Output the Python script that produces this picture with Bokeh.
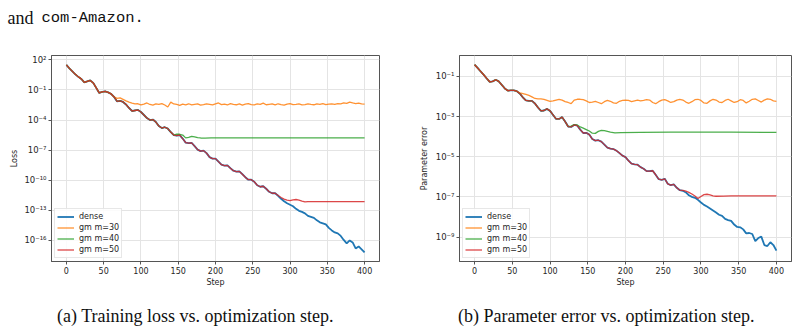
from bokeh.plotting import figure
from bokeh.models import (Range1d, FixedTicker, CustomJSTickFormatter, Legend,
                          LegendItem, Div)
from bokeh.core.properties import value
from bokeh.layouts import column, row
from bokeh.embed import file_html
from bokeh.resources import INLINE

# ---------------------------------------------------------------- data
# Optimization steps at which the dense runs are sampled.
steps = list(range(0, 401, 4))

# Values are stored as log10 of the quantity.
loss_dense = [1.50, 1.15, 0.85, 0.55, 0.30, 0.10, -0.25, -0.15, -0.05, -0.30,
              -0.80, -1.30, -1.20, -1.15, -1.25, -1.40, -1.70, -2.15, -2.10, -2.20,
              -2.45, -2.80, -3.10, -3.05, -3.00, -3.20, -3.50, -3.80, -4.00, -3.95,
              -4.20, -4.60, -4.80, -4.72, -4.85, -5.20, -5.50, -5.55, -5.50, -5.85,
              -6.25, -6.30, -6.28, -6.60, -6.95, -7.10, -7.05, -7.30, -7.70, -7.85,
              -7.85, -8.15, -8.45, -8.55, -8.52, -8.80, -9.05, -9.15, -9.12, -9.40,
              -9.70, -9.95, -9.95, -10.15, -10.50, -10.65, -10.60, -10.85, -11.15, -11.30,
              -11.30, -11.55, -11.85, -12.10, -12.30, -12.45, -12.60, -12.85, -13.05, -13.15,
              -13.30, -13.55, -13.65, -13.75, -14.00, -14.20, -14.30, -14.40, -14.75, -15.00,
              -15.20, -15.30, -15.55, -15.95, -16.30, -16.00, -16.20, -16.80, -16.60, -16.90,
              -17.20]

# gm runs coincide with the dense run until they level off; only the
# part after the split is listed.
loss_m30_steps = list(range(68, 401, 4))
loss_m30 = [-1.85, -1.80, -1.95, -2.10, -2.22, -2.32, -2.40, -2.38, -2.48, -2.42,
            -2.30, -2.45, -2.52, -2.40, -2.44, -2.36, -2.50, -2.70, -2.22, -2.40,
            -2.45, -2.55, -2.42, -2.48, -2.38, -2.50, -2.44, -2.40, -2.52, -2.46,
            -2.38, -2.44, -2.50, -2.40, -2.30, -2.46, -2.42, -2.50, -2.36, -2.44,
            -2.48, -2.40, -2.52, -2.42, -2.36, -2.46, -2.50, -2.40, -2.44, -2.32,
            -2.48, -2.44, -2.40, -2.50, -2.38, -2.46, -2.52, -2.42, -2.36, -2.46,
            -2.44, -2.40, -2.50, -2.46, -2.38, -2.44, -2.48, -2.40, -2.44, -2.36,
            -2.46, -2.42, -2.40, -2.44, -2.36, -2.40, -2.30, -2.34, -2.22, -2.30,
            -2.36, -2.32, -2.40, -2.42]

loss_m40_steps = [148, 152, 156, 160, 164, 168, 172, 176, 180, 186, 194, 220, 260, 300, 340, 400]
loss_m40 = [-5.40, -5.42, -5.50, -5.78, -5.72, -5.62, -5.68, -5.75, -5.79, -5.80,
            -5.78, -5.78, -5.77, -5.77, -5.77, -5.77]

loss_m50_steps = [284, 288, 292, 296, 300, 304, 308, 312, 316, 320, 324, 340, 360, 380, 400]
loss_m50 = [-11.52, -11.72, -11.88, -11.98, -12.03, -11.95, -11.92, -11.98, -12.08,
            -12.15, -12.13, -12.13, -12.13, -12.13, -12.13]

perr_dense = [-0.42, -0.58, -0.75, -0.92, -1.10, -1.27, -1.25, -1.17, -1.25, -1.42,
              -1.60, -1.71, -1.70, -1.70, -1.74, -1.86, -2.05, -2.20, -2.22, -2.22,
              -2.35, -2.55, -2.72, -2.70, -2.62, -2.72, -2.92, -3.12, -3.12, -3.03,
              -3.25, -3.50, -3.52, -3.42, -3.45, -3.65, -3.82, -3.81, -3.90, -4.12,
              -4.20, -4.18, -4.25, -4.40, -4.55, -4.60, -4.62, -4.70, -4.82, -4.95,
              -5.02, -5.20, -5.35, -5.38, -5.40, -5.52, -5.60, -5.72, -5.72, -5.70,
              -5.90, -6.12, -6.15, -6.10, -6.35, -6.42, -6.38, -6.55, -6.67, -6.70,
              -6.78, -6.92, -7.00, -7.05, -7.15, -7.28, -7.40, -7.48, -7.58, -7.68,
              -7.78, -7.89, -7.95, -8.10, -8.16, -8.20, -8.38, -8.50, -8.52, -8.62,
              -8.82, -8.80, -8.85, -9.21, -9.05, -8.98, -9.40, -9.45, -9.26, -9.40,
              -9.68]

perr_m30_steps = list(range(60, 401, 4))
perr_m30 = [-1.82, -1.86, -1.90, -1.95, -2.02, -2.10, -2.12, -2.12, -2.15, -2.20,
            -2.25, -2.22, -2.18, -2.15, -2.18, -2.26, -2.30, -2.36, -2.18, -2.14,
            -2.14, -2.16, -2.22, -2.30, -2.28, -2.24, -2.30, -2.36, -2.26, -2.20,
            -2.24, -2.32, -2.34, -2.24, -2.20, -2.18, -2.20, -2.26, -2.22, -2.18,
            -2.22, -2.20, -2.16, -2.18, -2.30, -2.36, -2.26, -2.18, -2.16, -2.22,
            -2.30, -2.26, -2.18, -2.14, -2.18, -2.28, -2.34, -2.26, -2.16, -2.14,
            -2.20, -2.32, -2.34, -2.22, -2.14, -2.18, -2.28, -2.30, -2.20, -2.14,
            -2.22, -2.30, -2.26, -2.16, -2.20, -2.32, -2.24, -2.14, -2.12, -2.20,
            -2.28, -2.18, -2.12, -2.14, -2.22, -2.24]

perr_m40_steps = [128, 132, 136, 140, 144, 148, 152, 156, 160, 164, 168, 172, 176, 180,
                  186, 194, 220, 260, 300, 340, 400]
perr_m40 = [-3.48, -3.40, -3.42, -3.52, -3.58, -3.65, -3.72, -3.83, -3.84, -3.74,
            -3.69, -3.70, -3.74, -3.78, -3.81, -3.80, -3.79, -3.78, -3.78, -3.78, -3.79]

perr_m50_steps = [276, 280, 284, 288, 292, 296, 300, 304, 308, 312, 316, 320, 330, 340,
                  360, 380, 400]
perr_m50 = [-6.68, -6.72, -6.78, -6.86, -6.96, -7.08, -6.98, -6.89, -6.87, -6.90,
            -6.95, -6.97, -6.96, -6.95, -6.95, -6.95, -6.95]

series_names = ["dense", "gm m=30", "gm m=40", "gm m=50"]
series_colors = ["#1f77b4", "#ff7f0e", "#2ca02c", "#d62728"]
x_ticks = [0, 50, 100, 150, 200, 250, 300, 350, 400]
loss_tick_exps = [2, -1, -4, -7, -10, -13, -16]
perr_tick_exps = [-1, -3, -5, -7, -9]

FONT = "DejaVu Sans"

SUPERSCRIPT = CustomJSTickFormatter(code="""
const digits = {'-': '\\u207b', '0': '\\u2070', '1': '\\u00b9', '2': '\\u00b2',
                '3': '\\u00b3', '4': '\\u2074', '5': '\\u2075', '6': '\\u2076',
                '7': '\\u2077', '8': '\\u2078', '9': '\\u2079'};
const e = Math.round(Math.log10(tick));
return '10' + String(e).split('').map(c => digits[c]).join('');
""")


def joined(dense, tail_steps, tail_vals):
    """A gm run: the dense prefix up to the split, then its own values."""
    xs = [s for s in steps if s < tail_steps[0]] + list(tail_steps)
    ys = [v for s, v in zip(steps, dense) if s < tail_steps[0]] + list(tail_vals)
    return xs, [10.0 ** v for v in ys]


def panel(ylabel, dense, tails, y_lo, y_hi, tick_exps, width, b_left, b_right, ylab_standoff):
    p = figure(width=width, height=259, output_backend="svg", toolbar_location=None,
               x_range=Range1d(-20, 420), y_range=Range1d(10.0 ** y_lo, 10.0 ** y_hi),
               y_axis_type="log", min_border_left=b_left, min_border_right=b_right,
               min_border_top=25, min_border_bottom=28, margin=(0, 0, 0, 0))
    p.outline_line_color = "#555555"
    p.outline_line_width = 1

    p.xaxis.ticker = FixedTicker(ticks=x_ticks)
    p.yaxis.ticker = FixedTicker(ticks=[10.0 ** e for e in tick_exps])
    p.yaxis.formatter = SUPERSCRIPT
    p.xaxis.axis_label = "Step"
    p.yaxis.axis_label = ylabel
    p.yaxis.axis_label_standoff = ylab_standoff
    p.xaxis.axis_label_standoff = 1
    for ax in (p.xaxis, p.yaxis):
        ax.axis_line_color = "#555555"
        ax.major_tick_line_color = "#555555"
        ax.major_tick_out = 3
        ax.major_tick_in = 0
        ax.minor_tick_out = 0
        ax.minor_tick_in = 0
        ax.major_label_standoff = 2
        ax.major_label_text_font = FONT
        ax.major_label_text_font_size = "8px"
        ax.major_label_text_color = "#262626"
        ax.axis_label_text_font = FONT
        ax.axis_label_text_font_size = "8px"
        ax.axis_label_text_font_style = "normal"
        ax.axis_label_text_color = "#262626"
    p.yaxis.major_label_text_font_size = "8.5px"
    for g in (p.xgrid, p.ygrid):
        g.grid_line_color = "#e4e4e4"
        g.grid_line_width = 1

    items = []
    r = p.line([s for s in steps], [10.0 ** v for v in dense],
               line_color=series_colors[0], line_width=1.8)
    items.append(LegendItem(label=series_names[0], renderers=[r]))
    for name, color, (ts, tv) in zip(series_names[1:], series_colors[1:], tails):
        xs, ys = joined(dense, ts, tv)
        r = p.line(xs, ys, line_color=color, line_width=1.3, line_alpha=0.85)
        items.append(LegendItem(label=name, renderers=[r]))

    legend = Legend(items=items, location="bottom_left", margin=3, padding=2,
                    spacing=0, glyph_width=17, glyph_height=11, label_height=11,
                    label_standoff=5, label_text_font=FONT, label_text_font_size="8px",
                    label_text_color="#262626", border_line_color="#d0d0d0",
                    border_line_width=1, background_fill_alpha=0.85)
    p.add_layout(legend)
    return p


p_loss = panel("Loss", loss_dense,
               [(loss_m30_steps, loss_m30), (loss_m40_steps, loss_m40), (loss_m50_steps, loss_m50)],
               -18.1, 2.43, loss_tick_exps, 400, 51, 21, 2)
p_perr = panel("Parameter error", perr_dense,
               [(perr_m30_steps, perr_m30), (perr_m40_steps, perr_m40), (perr_m50_steps, perr_m50)],
               -10.22, 0.04, perr_tick_exps, 398, 59, 7, 4)

# Running text above the figures: serif words followed by a typewriter name.
head = figure(width=798, height=30, output_backend="svg", toolbar_location=None,
              x_range=Range1d(0, 798), y_range=Range1d(30, 0),
              x_axis_type=None, y_axis_type=None, min_border=0, margin=(0, 0, 0, 0),
              outline_line_color=None)
head.grid.visible = False
head.text(x=[7], y=[17], text=["and"], text_font=value("Liberation Serif"),
          text_font_size="18px", text_baseline="alphabetic", text_color="#111111")
head.text(x=[41], y=[17], text=["com-Amazon."], text_font=value("Liberation Mono"),
          text_font_size="15.5px", text_baseline="alphabetic", text_color="#111111")

captions = Div(
    text=("<div style=\"position:relative;width:798px;height:39px;"
          "font-family:'Liberation Serif';font-size:18px;line-height:20px;color:#111111\">"
          "<span style=\"position:absolute;left:57px;top:17px;white-space:nowrap\">"
          "(a) Training loss vs. optimization step.</span>"
          "<span style=\"position:absolute;left:458px;top:17px;white-space:nowrap\">"
          "(b) Parameter error vs. optimization step.</span></div>"),
    width=798, height=39, margin=(0, 0, 0, 0))

page = column(head, row(p_loss, p_perr, spacing=0), captions, spacing=0)

with open("out.html", "w", encoding="utf-8") as f:
    f.write(file_html(page, INLINE))
